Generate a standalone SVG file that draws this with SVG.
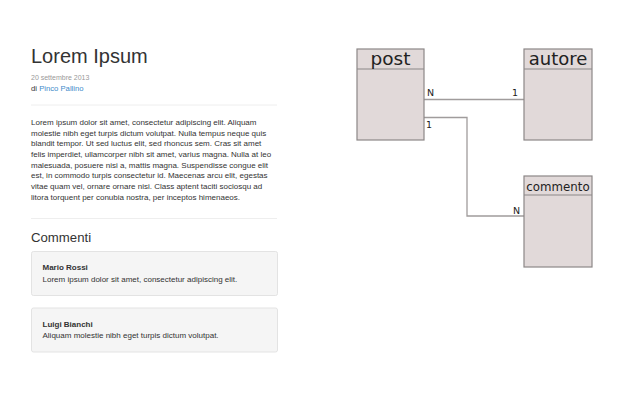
<svg xmlns="http://www.w3.org/2000/svg" width="640" height="400" viewBox="0 0 640 400">
<style>
.t{font-family:"Liberation Sans",Arial,sans-serif;fill:#333}
.body{font-size:8px}
.hr{stroke:#eeeeee;stroke-width:1}
.well{fill:#f5f5f5;stroke:#e3e3e3;stroke-width:1}
.ent{fill:#e1d9d9;stroke:#8c8787;stroke-width:1.2}
.et{font-family:"DejaVu Sans",sans-serif;fill:#222;text-anchor:middle}
.lbl{font-family:"DejaVu Sans",sans-serif;font-size:9.5px;fill:#222}
.con{fill:none;stroke:#a09c9c;stroke-width:1.3}
</style>
<rect width="640" height="400" fill="#ffffff"/>
<g id="article">
<text class="t" x="31" y="63" font-size="20">Lorem Ipsum</text>
<text class="t" x="31" y="79.5" font-size="7" style="fill:#999">20 settembre 2013</text>
<text class="t" x="31" y="90.5" font-size="7.7">di <tspan style="fill:#428bca">Pinco Pallino</tspan></text>
<line class="hr" x1="31" y1="105" x2="277" y2="105"/>
<text class="t body" x="31">
<tspan x="31" y="124.8">Lorem ipsum dolor sit amet, consectetur adipiscing elit. Aliquam</tspan>
<tspan x="31" y="135.5">molestie nibh eget turpis dictum volutpat. Nulla tempus neque quis</tspan>
<tspan x="31" y="146.2">blandit tempor. Ut sed luctus elit, sed rhoncus sem. Cras sit amet</tspan>
<tspan x="31" y="156.9">felis imperdiet, ullamcorper nibh sit amet, varius magna. Nulla at leo</tspan>
<tspan x="31" y="167.6">malesuada, posuere nisi a, mattis magna. Suspendisse congue elit</tspan>
<tspan x="31" y="178.3">est, in commodo turpis consectetur id. Maecenas arcu elit, egestas</tspan>
<tspan x="31" y="189">vitae quam vel, ornare ornare nisi. Class aptent taciti sociosqu ad</tspan>
<tspan x="31" y="199.7">litora torquent per conubia nostra, per inceptos himenaeos.</tspan>
</text>
<line class="hr" x1="31" y1="218.5" x2="277" y2="218.5"/>
<text class="t" x="31" y="241.5" font-size="13.2">Commenti</text>
</g>
<g id="comment1">
<rect class="well" x="31.5" y="251.5" width="246" height="44" rx="2"/>
<text class="t body" x="42.5" y="270" font-weight="bold">Mario Rossi</text>
<text class="t body" x="42.5" y="281.5">Lorem ipsum dolor sit amet, consectetur adipiscing elit.</text>
</g>
<g id="comment2">
<rect class="well" x="31.5" y="308" width="246" height="44" rx="2"/>
<text class="t body" x="42.5" y="326.5" font-weight="bold">Luigi Bianchi</text>
<text class="t body" x="42.5" y="338">Aliquam molestie nibh eget turpis dictum volutpat.</text>
</g>
<g id="connectors">
<polyline class="con" points="424,99.5 524,99.5"/>
<polyline class="con" points="424,117.5 467,117.5 467,216 524,216"/>
<text class="lbl" x="427" y="96">N</text>
<text class="lbl" x="512" y="96">1</text>
<text class="lbl" x="426" y="128">1</text>
<text class="lbl" x="513" y="213.5">N</text>
</g>
<g id="post">
<rect class="ent" x="357" y="49" width="67" height="91"/>
<line class="ent" x1="357" y1="69" x2="424" y2="69"/>
<text class="et" x="390.5" y="65" font-size="18.5">post</text>
</g>
<g id="autore">
<rect class="ent" x="524" y="49" width="68" height="91"/>
<line class="ent" x1="524" y1="69" x2="592" y2="69"/>
<text class="et" x="558" y="65" font-size="18">autore</text>
</g>
<g id="commento">
<rect class="ent" x="524" y="176" width="68" height="91"/>
<line class="ent" x1="524" y1="195" x2="592" y2="195"/>
<text class="et" x="558" y="190.5" font-size="11.8">commento</text>
</g>
</svg>
